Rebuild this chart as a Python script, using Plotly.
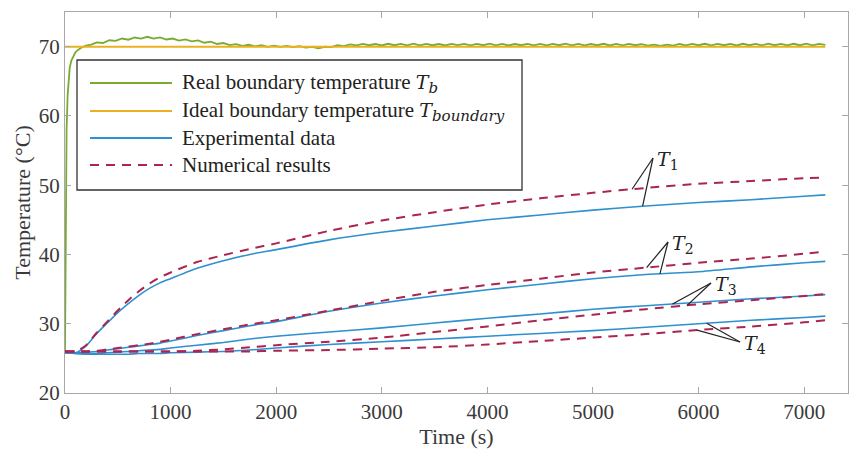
import numpy as np
import plotly.graph_objects as go

# ---------------- data ----------------
t_grid = [0, 100, 200, 300, 400, 500, 600, 700, 800, 900, 1000, 1250, 1500, 1750,
          2000, 2500, 3000, 3500, 4000, 4500, 5000, 5500, 6000, 6500, 7000, 7200]

exp_T1 = [25.8, 25.8, 26.8, 28.6, 30.1, 31.6, 32.9, 34.1, 35.1, 35.9, 36.5, 38.0, 39.1, 40.0,
          40.7, 42.1, 43.2, 44.1, 45.0, 45.7, 46.4, 47.0, 47.5, 47.9, 48.4, 48.6]
num_T1 = [26.0, 26.0, 26.9, 28.7, 30.3, 31.9, 33.4, 34.7, 35.8, 36.7, 37.4, 38.9, 39.9, 40.8,
          41.6, 43.4, 44.9, 46.1, 47.2, 48.1, 48.9, 49.6, 50.2, 50.6, 51.0, 51.1]

exp_T2 = [25.8, 25.8, 25.9, 26.0, 26.2, 26.4, 26.6, 26.8, 27.0, 27.2, 27.5, 28.3, 29.0, 29.7,
          30.3, 31.8, 33.0, 34.0, 34.9, 35.7, 36.5, 37.1, 37.5, 38.2, 38.8, 39.0]
num_T2 = [26.0, 26.0, 26.0, 26.1, 26.3, 26.5, 26.7, 26.9, 27.1, 27.4, 27.7, 28.5, 29.2, 29.9,
          30.5, 31.9, 33.3, 34.6, 35.6, 36.5, 37.4, 38.1, 38.8, 39.4, 40.1, 40.4]

exp_T3 = [25.8, 25.7, 25.7, 25.7, 25.8, 25.9, 26.0, 26.1, 26.2, 26.3, 26.5, 26.9, 27.3, 27.8,
          28.2, 28.8, 29.4, 30.1, 30.8, 31.4, 32.1, 32.6, 33.1, 33.6, 34.0, 34.2]
num_T3 = [26.0, 26.0, 26.0, 26.0, 26.0, 26.0, 26.0, 26.0, 26.0, 26.0, 26.0, 26.1, 26.3, 26.6,
          26.9, 27.4, 28.0, 28.8, 29.6, 30.5, 31.3, 32.1, 32.8, 33.4, 34.0, 34.3]

exp_T4 = [25.8, 25.7, 25.6, 25.6, 25.6, 25.6, 25.6, 25.7, 25.7, 25.7, 25.8, 25.9, 26.0, 26.2,
          26.5, 27.0, 27.4, 27.8, 28.2, 28.6, 29.0, 29.5, 30.0, 30.5, 30.9, 31.1]
num_T4 = [26.0, 26.0, 26.0, 26.0, 26.0, 26.0, 26.0, 26.0, 26.0, 26.0, 26.0, 26.0, 26.0, 26.0,
          26.1, 26.2, 26.4, 26.6, 27.0, 27.5, 28.0, 28.5, 29.1, 29.6, 30.2, 30.5]

# real boundary temperature (green)
tb_time_early = [0, 8, 15, 25, 35, 45, 60, 80, 100, 130, 160, 200, 250]
tb_early = [26.0, 45.0, 58.0, 63.0, 65.5, 67.0, 68.0, 68.6, 69.2, 69.6, 69.9, 70.15, 70.3]
tb_time_late = list(range(300, 7201, 60))
tb_late = [
    70.62, 70.53, 70.92, 70.83, 71.17, 71.00, 71.32, 71.16, 71.42, 71.15,
    71.34, 71.03, 71.17, 70.86, 71.04, 70.75, 70.89, 70.56, 70.72, 70.38,
    70.52, 70.21, 70.37, 70.12, 70.27, 70.03, 70.20, 69.98, 70.15, 69.96,
    70.12, 69.93, 70.08, 69.87, 69.98, 69.77, 69.98, 69.92, 70.20, 70.08,
    70.32, 70.18, 70.40, 70.20, 70.38, 70.17, 70.41, 70.20, 70.39, 70.18,
    70.42, 70.19, 70.40, 70.20, 70.38, 70.17, 70.40, 70.21, 70.41, 70.18,
    70.39, 70.20, 70.42, 70.19, 70.40, 70.17, 70.38, 70.20, 70.41, 70.19,
    70.40, 70.18, 70.39, 70.20, 70.42, 70.18, 70.40, 70.19, 70.38, 70.20,
    70.41, 70.17, 70.40, 70.19, 70.39, 70.20, 70.36, 70.14, 70.30, 70.12,
    70.30, 70.15, 70.38, 70.19, 70.40, 70.20, 70.41, 70.18, 70.40, 70.20,
    70.39, 70.17, 70.41, 70.20, 70.40, 70.19, 70.42, 70.20, 70.40, 70.18,
    70.41, 70.20, 70.42, 70.19, 70.40, 70.25]
tb_time = tb_time_early + tb_time_late
tb_vals = tb_early + tb_late

ideal_time = [0, 7200]
ideal_vals = [70.0, 70.0]

x_ticks = [0, 1000, 2000, 3000, 4000, 5000, 6000, 7000]
y_ticks = [20, 30, 40, 50, 60, 70]

MATH = "font-family:'DejaVu Serif';font-style:italic"
legend_labels = [
    "Real boundary temperature <span style=\"%s;font-size:19px\">T</span>"
    "<sub><span style=\"%s;font-size:15px\">b</span></sub>" % (MATH, MATH),
    "Ideal boundary temperature <span style=\"%s;font-size:19px\">T</span>"
    "<sub><span style=\"%s;font-size:15px\">boundary</span></sub>" % (MATH, MATH),
    "Experimental data",
    "Numerical results",
]
curve_label_subs = ["1", "2", "3", "4"]

# ---------------- style ----------------
GREEN = "#77AC30"
YELLOW = "#EDB120"
BLUE = "#2E90D0"
RED = "#AC2550"
FONT = "Liberation Serif, Times New Roman, serif"
AXC = "#a8a8a8"
TXT = "#3a3a3a"

W, H = 849, 450
ML, MR, MT, MB = 65, 1, 12, 57
PW, PH = W - ML - MR, H - MT - MB
XMAX, YMIN, YMAX = 7415, 20, 75

def px2paper_x(px):
    return (px - ML) / PW

def px2paper_y(py):
    return (H - MB - py) / PH

def px2data_x(px):
    return (px - ML) / PW * XMAX

def px2data_y(py):
    return YMAX - (py - MT) / PH * (YMAX - YMIN)

fig = go.Figure()

fig.add_trace(go.Scatter(x=tb_time, y=tb_vals, mode="lines",
                         line=dict(color=GREEN, width=1.8), showlegend=False))
fig.add_trace(go.Scatter(x=ideal_time, y=ideal_vals, mode="lines",
                         line=dict(color=YELLOW, width=2), showlegend=False))

exp_all = [exp_T1, exp_T2, exp_T3, exp_T4]
num_all = [num_T1, num_T2, num_T3, num_T4]
for e in exp_all:
    fig.add_trace(go.Scatter(x=t_grid, y=e, mode="lines",
                             line=dict(color=BLUE, width=1.6, shape="spline", smoothing=0.6),
                             showlegend=False))
for n in num_all:
    fig.add_trace(go.Scatter(x=t_grid, y=n, mode="lines",
                             line=dict(color=RED, width=2, dash="9px,7px", shape="spline", smoothing=0.6),
                             showlegend=False))

shapes = []
annotations = []

# ----- custom legend -----
shapes.append(dict(type="rect", xref="paper", yref="paper",
                   x0=px2paper_x(77), x1=px2paper_x(522),
                   y0=px2paper_y(190), y1=px2paper_y(60),
                   line=dict(color="#333333", width=1.3), fillcolor="white", layer="above"))
leg_y = [83, 111, 138, 165]
leg_style = [dict(color=GREEN, width=2), dict(color=YELLOW, width=2),
             dict(color=BLUE, width=2), dict(color=RED, width=2, dash="9px,7px")]
for py, st, lab in zip(leg_y, leg_style, legend_labels):
    shapes.append(dict(type="line", xref="paper", yref="paper",
                       x0=px2paper_x(90), x1=px2paper_x(172),
                       y0=px2paper_y(py), y1=px2paper_y(py), line=st, layer="above"))
    annotations.append(dict(xref="paper", yref="paper", x=px2paper_x(180), y=px2paper_y(py),
                            text=lab, showarrow=False, xanchor="left", yanchor="middle",
                            font=dict(family=FONT, size=21, color="#222222")))

# ----- curve labels T1..T4 -----
label_specs = [
    # (apex px x, apex px y, [(curve, time)])
    (653, 158, [(num_T1, 5370), (exp_T1, 5470)]),
    (668, 242, [(num_T2, 5508), (exp_T2, 5634)]),
    (711, 283, [(exp_T3, 5753), (num_T3, 5892)]),
    (740, 342, [(exp_T4, 6077), (num_T4, 5985)]),
]
for (ax_px, ay_px, targets), sub in zip(label_specs, curve_label_subs):
    axd, ayd = px2data_x(ax_px), px2data_y(ay_px)
    for curve, tt in targets:
        yy = float(np.interp(tt, t_grid, curve))
        shapes.append(dict(type="line", xref="x", yref="y", x0=axd, y0=ayd, x1=tt, y1=yy,
                           line=dict(color="#222222", width=1.2)))
    txt = ("<span style=\"%s;font-size:19px\">T</span>"
           "<sub><span style=\"font-family:'DejaVu Serif';font-size:14px\">%s</span></sub>" % (MATH, sub))
    annotations.append(dict(xref="x", yref="y", x=px2data_x(ax_px + 2), y=px2data_y(ay_px + 2),
                            text=txt, showarrow=False,
                            xanchor="left", yanchor="middle",
                            font=dict(family=FONT, size=21, color="#222222")))

fig.update_layout(
    width=W, height=H,
    margin=dict(l=ML, r=MR, t=MT, b=MB),
    paper_bgcolor="white", plot_bgcolor="white",
    shapes=shapes, annotations=annotations,
    showlegend=False,
    font=dict(family=FONT, size=21, color=TXT),
)
fig.update_xaxes(range=[0, XMAX], tickvals=x_ticks, ticktext=[str(v) for v in x_ticks],
                 showgrid=False, zeroline=False, showline=True, linecolor=AXC, linewidth=1,
                 mirror="ticks", ticks="inside", ticklen=6, tickcolor=AXC,
                 tickfont=dict(family=FONT, size=21, color=TXT),
                 title=dict(text="Time (s)", font=dict(family=FONT, size=22, color=TXT), standoff=4))
fig.update_yaxes(range=[YMIN, YMAX], tickvals=y_ticks, ticktext=[str(v) for v in y_ticks],
                 showgrid=False, zeroline=False, showline=True, linecolor=AXC, linewidth=1,
                 mirror="ticks", ticks="inside", ticklen=6, tickcolor=AXC,
                 tickfont=dict(family=FONT, size=21, color=TXT),
                 title=dict(text="Temperature (°C)", font=dict(family=FONT, size=22, color=TXT), standoff=2))

fig.write_html("out.html")
